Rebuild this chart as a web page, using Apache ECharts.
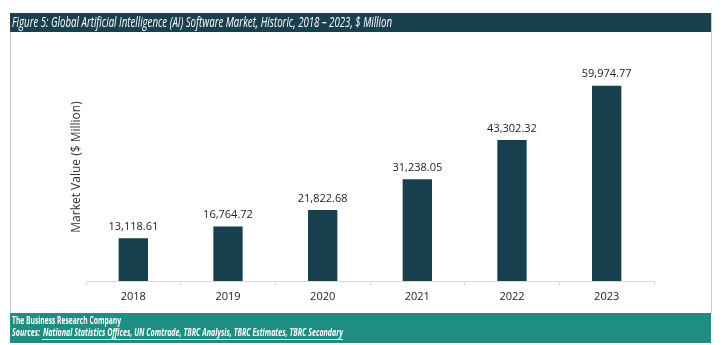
<!DOCTYPE html>
<html>
<head>
<meta charset="utf-8">
<script src="https://cdn.jsdelivr.net/npm/echarts@6/dist/echarts.min.js"></script>
<style>
  html, body { margin: 0; padding: 0; background: #ffffff; }
  #chart { width: 723px; height: 345px; }
</style>
</head>
<body>
<div id="chart"></div>
<script>
// Yearly market values, $ Million
const years = ['2018', '2019', '2020', '2021', '2022', '2023'];
const marketValues = [13118.61, 16764.72, 21822.68, 31238.05, 43302.32, 59974.77];

const titleText = 'Figure 5: Global Artificial Intelligence (AI) Software Market, Historic, 2018 \u2013 2023, $ Million';
const yAxisName = 'Market Value ($ Million)';
const companyText = 'The Business Research Company';
const sourcesLabel = 'Sources:';
const sourcesText = 'National Statistics Offices, UN Comtrade, TBRC Analysis, TBRC Estimates, TBRC Secondary';

const FONT = '"Open Sans", "Noto Sans", sans-serif';

const fmt = v => v.toLocaleString('en-US', { minimumFractionDigits: 2, maximumFractionDigits: 2 });

// horizontal squeeze so a text run spans the wanted width (condensed look)
const measureCtx = document.createElement('canvas').getContext('2d');
function textWidth(text, font) {
  measureCtx.font = font;
  return measureCtx.measureText(text).width;
}
const titleFont = 'italic 15px ' + FONT;
const companyFont = 'bold 11px ' + FONT;
const srcFont = 'italic bold 11px ' + FONT;

const titleScale = 380 / textWidth(titleText, titleFont);
const companyScale = 109 / textWidth(companyText, companyFont);
const srcLabelW = textWidth(sourcesLabel + ' ', srcFont);
const srcTextW = textWidth(sourcesText, srcFont);
const srcScale = 330 / (srcLabelW + srcTextW);
const srcX = 12;
const listX = srcX + srcLabelW * srcScale + 1;

const chart = echarts.init(document.getElementById('chart'), null, { renderer: 'canvas' });

chart.setOption({
  animation: false,
  backgroundColor: '#ffffff',
  grid: { left: 86, right: 69, top: 53, bottom: 64, containLabel: false },
  xAxis: {
    type: 'category',
    data: years,
    axisLine: { show: true, lineStyle: { color: '#d9d9d9', width: 1 } },
    axisTick: { show: true, length: 4, lineStyle: { color: '#d9d9d9' } },
    axisLabel: { color: '#222222', fontSize: 11, fontFamily: FONT, margin: 10 }
  },
  yAxis: {
    type: 'value',
    min: 0,
    max: 70000,
    show: true,
    axisLine: { show: false },
    axisTick: { show: false },
    axisLabel: { show: false },
    splitLine: { show: false },
    name: yAxisName,
    nameLocation: 'middle',
    nameGap: 3,
    nameRotate: 90,
    nameTextStyle: { color: '#333333', fontSize: 12, fontFamily: FONT }
  },
  series: [{
    type: 'bar',
    data: marketValues,
    barWidth: '31%',
    itemStyle: { color: '#173f4e' },
    label: {
      show: true,
      position: 'top',
      distance: 6,
      color: '#222222',
      fontSize: 11,
      fontFamily: FONT,
      formatter: p => fmt(p.value)
    }
  }],
  graphic: [
    // outer frame of the chart area
    {
      type: 'rect', z: 0, silent: true,
      shape: { x: 10.5, y: 13.5, width: 701, height: 300 },
      style: { fill: 'none', stroke: '#c8c8c8', lineWidth: 1 }
    },
    // title band
    {
      type: 'rect', z: 1, silent: true,
      shape: { x: 10, y: 13, width: 701, height: 19 },
      style: { fill: '#19404f' }
    },
    {
      type: 'text', z: 2, silent: true,
      x: 12, y: 22.5, scaleX: titleScale,
      style: {
        text: titleText,
        fill: '#ffffff',
        font: titleFont,
        verticalAlign: 'middle'
      }
    },
    // footer band
    {
      type: 'rect', z: 1, silent: true,
      shape: { x: 10, y: 313, width: 701, height: 30 },
      style: { fill: '#1f8d82' }
    },
    {
      type: 'text', z: 2, silent: true,
      x: 12, y: 320.5, scaleX: companyScale,
      style: {
        text: companyText,
        fill: '#ffffff',
        font: companyFont,
        verticalAlign: 'middle'
      }
    },
    {
      type: 'text', z: 2, silent: true,
      x: srcX, y: 333, scaleX: srcScale,
      style: {
        text: sourcesLabel,
        fill: '#ffffff',
        font: srcFont,
        verticalAlign: 'middle'
      }
    },
    {
      type: 'text', z: 2, silent: true,
      x: listX, y: 333, scaleX: srcScale,
      style: {
        text: sourcesText,
        fill: '#ffffff',
        font: srcFont,
        verticalAlign: 'middle'
      }
    },
    // underline beneath the source list
    {
      type: 'line', z: 2, silent: true,
      shape: { x1: listX - 1, y1: 339.5, x2: listX + srcTextW * srcScale, y2: 339.5 },
      style: { stroke: '#ffffff', lineWidth: 1 }
    }
  ]
});
</script>
</body>
</html>
